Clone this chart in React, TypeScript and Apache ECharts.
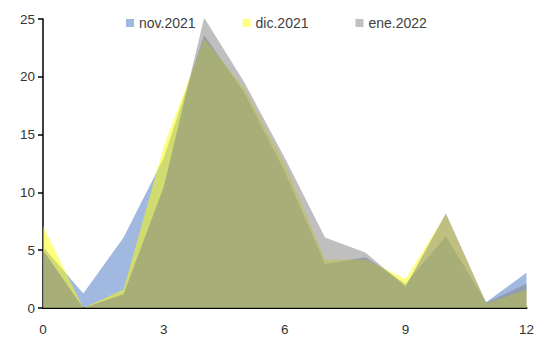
import React, { useEffect, useRef } from "react";
import * as echarts from "echarts";

const xValues = [0, 1, 2, 3, 4, 5, 6, 7, 8, 9, 10, 11, 12];
const seriesNames = ["nov.2021", "dic.2021", "ene.2022"];
const nov2021 = [5.3, 1.25, 6.1, 13, 23.6, 18.6, 11.8, 3.8, 4.4, 2.1, 6.2, 0.5, 3.05];
const dic2021 = [7.1, 0, 1.6, 14, 23.3, 19.0, 12.5, 4.2, 4.2, 2.5, 8.1, 0.4, 1.6];
const ene2022 = [5.0, 0, 1.2, 10.5, 25.1, 19.5, 13.0, 6.1, 4.8, 1.85, 8.2, 0.45, 2.1];
const yTicks = [0, 5, 10, 15, 20, 25];
const xTicks = [0, 3, 6, 9, 12];

const baseColors = ["#4472C4", "#FFFF00", "#808080"];
const legendColors = ["#A1B8E1", "#FFFF80", "#C0C0C0"];

export default function App() {
  const ref = useRef<HTMLDivElement>(null);
  useEffect(() => {
    if (!ref.current) return;
    const chart = echarts.init(ref.current, null, { renderer: "svg" });
    const all = [nov2021, dic2021, ene2022];
    chart.setOption({
      animation: false,
      textStyle: { fontFamily: "Liberation Sans" },
      legend: {
        top: 11,
        left: 121,
        itemWidth: 8,
        itemHeight: 8,
        itemGap: 47,
        icon: "rect",
        textStyle: { fontSize: 14, color: "#404040", fontFamily: "Liberation Sans" },
        data: seriesNames,
      },
      grid: { left: 43, right: 10, top: 19, bottom: 29 },
      xAxis: {
        type: "value",
        min: xTicks[0],
        max: xTicks[xTicks.length - 1],
        interval: 3,
        axisLine: { show: true, lineStyle: { color: "#000", width: 2 } },
        axisTick: { show: false },
        splitLine: { show: false },
        axisLabel: { fontSize: 13.5, color: "#333", margin: 14 },
      },
      yAxis: {
        type: "value",
        min: yTicks[0],
        max: yTicks[yTicks.length - 1],
        interval: 5,
        axisLine: { show: true, lineStyle: { color: "#000", width: 1.5 } },
        axisTick: { show: true, length: 5, lineStyle: { color: "#000", width: 1.5 } },
        splitLine: { show: false },
        axisLabel: { fontSize: 13.5, color: "#333", margin: 8 },
      },
      series: all.map((vals, i) => ({
        name: seriesNames[i],
        type: "line",
        data: xValues.map((x, j) => [x, vals[j]]),
        showSymbol: false,
        symbol: "none",
        clip: false,
        lineStyle: { width: 0, opacity: 0 },
        itemStyle: { color: legendColors[i] },
        areaStyle: { color: baseColors[i], opacity: 0.5 },
        z: 2 + i,
      })),
    });
    return () => chart.dispose();
  }, []);
  return (
    <div
      ref={ref}
      style={{ position: "fixed", left: 0, top: 0, width: 537, height: 337, background: "#fff" }}
    />
  );
}
